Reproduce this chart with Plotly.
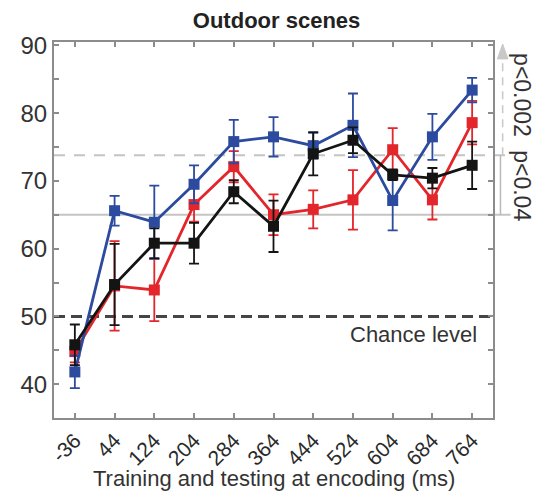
import plotly.graph_objects as go

# ---- data ----
times = [-36, 44, 124, 204, 284, 364, 444, 524, 604, 684, 764]
time_labels = ["-36", "44", "124", "204", "284", "364", "444", "524", "604", "684", "764"]

blue = [41.8, 65.6, 63.9, 69.5, 75.8, 76.5, 75.2, 78.2, 67.1, 76.5, 83.4]
blue_err = [2.4, 2.2, 5.4, 2.8, 3.2, 2.9, 1.9, 4.7, 4.4, 3.4, 1.8]

red = [44.8, 54.5, 53.9, 66.5, 72.1, 65.0, 65.8, 67.2, 74.6, 67.2, 78.6]
red_err = [1.6, 6.6, 4.6, 2.5, 2.3, 3.0, 2.8, 4.4, 3.2, 2.9, 3.2]

black = [45.8, 54.7, 60.8, 60.8, 68.4, 63.3, 74.0, 76.0, 70.9, 70.4, 72.3]
black_err = [3.0, 6.0, 2.2, 3.0, 1.7, 3.8, 3.2, 1.9, 0.8, 1.5, 3.5]

y_tickvals = [40, 45, 50, 55, 60, 65, 70, 75, 80, 85, 90]
y_ticktext = ["40", "", "50", "", "60", "", "70", "", "80", "", "90"]

chance_level = 50
thr_p04 = 65.0
thr_p002 = 73.8

FONT = "Liberation Sans, Arial, sans-serif"
BLUE = "#2c4a9e"
RED = "#e2262b"
BLACK = "#141414"

fig = go.Figure()

def add_series(y, err, color):
    fig.add_trace(go.Scatter(
        x=times, y=y, mode="lines+markers",
        line=dict(color=color, width=2.8),
        marker=dict(symbol="square", size=11, color=color,
                    line=dict(color=color, width=0)),
        error_y=dict(type="data", array=err, visible=True,
                     color=color, thickness=1.8, width=5),
        showlegend=False,
    ))

add_series(red, red_err, RED)
add_series(blue, blue_err, BLUE)
add_series(black, black_err, BLACK)

y_range = [35.0, 90.5]

shapes = [
    # chance level
    dict(type="line", xref="paper", yref="y", x0=0, x1=1,
         y0=chance_level, y1=chance_level,
         line=dict(color="#454545", width=3, dash="11px,6px"), layer="below"),
    # significance thresholds
    dict(type="line", xref="paper", yref="y", x0=0, x1=1.04,
         y0=thr_p04, y1=thr_p04,
         line=dict(color="#c4c4c4", width=2), layer="below"),
    dict(type="line", xref="paper", yref="y", x0=0, x1=1.04,
         y0=thr_p002, y1=thr_p002,
         line=dict(color="#c4c4c4", width=2, dash="11px,9px"), layer="below"),
    # vertical bracket on the right
    dict(type="line", xref="paper", yref="y", x0=1.017, x1=1.017,
         y0=thr_p04, y1=thr_p002,
         line=dict(color="#b8b8b8", width=1.5)),
    dict(type="line", xref="paper", yref="y", x0=1.022, x1=1.022,
         y0=thr_p002, y1=88.2,
         line=dict(color="#c8c8c8", width=1.5, dash="8px,6px")),
]
# arrow head (triangle) at the top of the dashed bracket
ax_x = 1.022
shapes.append(dict(type="path", xref="paper", yref="y",
                   path=f"M {ax_x-0.012} 88.0 L {ax_x+0.012} 88.0 L {ax_x} 90.2 Z",
                   fillcolor="#c8c8c8", line=dict(color="#c8c8c8", width=1)))

annotations = [
    dict(text="Chance level", xref="paper", yref="y", x=0.968, y=47.3,
         xanchor="right", yanchor="middle", showarrow=False,
         font=dict(family=FONT, size=22, color="#333333")),
    dict(text="p<0.002", xref="paper", yref="y", x=1.067, y=82.6,
         xanchor="center", yanchor="middle", showarrow=False, textangle=90,
         font=dict(family=FONT, size=23, color="#333333")),
    dict(text="p<0.04", xref="paper", yref="y", x=1.067, y=69.3,
         xanchor="center", yanchor="middle", showarrow=False, textangle=90,
         font=dict(family=FONT, size=23, color="#333333")),
    dict(text="Training and testing at encoding (ms)", xref="paper", yref="paper",
         x=0.5, y=0, yshift=-60, xanchor="center", yanchor="middle",
         showarrow=False, font=dict(family=FONT, size=22, color="#333333")),
]

# the page body has an 8px default margin, so the figure is 8px smaller
fig.update_layout(
    width=535, height=487,
    margin=dict(l=44, r=50, t=34, b=77),
    paper_bgcolor="white", plot_bgcolor="white",
    title=dict(text="<b>Outdoor scenes</b>", x=0.502, xanchor="center",
               y=1 - 12 / 487, yanchor="middle", yref="container",
               font=dict(family=FONT, size=22, color="#222222")),
    shapes=shapes, annotations=annotations,
    font=dict(family=FONT, color="#333333"),
)

fig.update_xaxes(
    range=[-78, 806], tickvals=times, ticktext=time_labels, tickangle=-45,
    showgrid=False, zeroline=False, showline=True, mirror="allticks",
    linecolor="#8c8c8c", linewidth=2, ticks="inside", ticklen=5,
    tickcolor="#8c8c8c", tickwidth=1.5,
    tickfont=dict(family=FONT, size=21, color="#2a2a2a"),
)
fig.update_yaxes(
    range=y_range, tickvals=y_tickvals, ticktext=y_ticktext,
    showgrid=False, zeroline=False, showline=True, mirror="allticks",
    linecolor="#8c8c8c", linewidth=2, ticks="inside", ticklen=5,
    tickcolor="#8c8c8c", tickwidth=1.5,
    tickfont=dict(family=FONT, size=24, color="#333333"),
)

fig.write_html("out.html")
